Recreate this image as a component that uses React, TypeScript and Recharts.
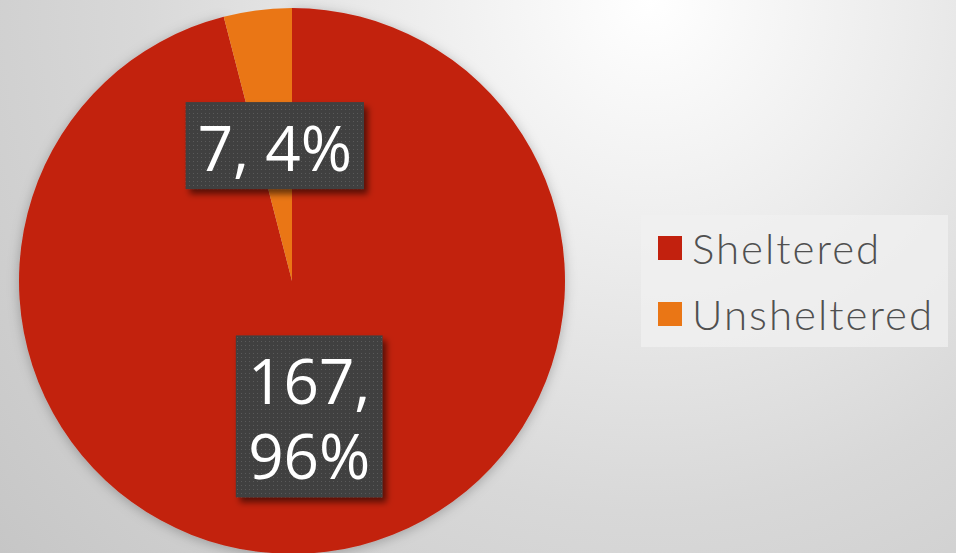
import { PieChart, Pie, Cell, Legend } from 'recharts';

const categories = ['Sheltered', 'Unsheltered'];
const counts = [167, 7];
const sliceColors = ['#C2210E', '#EA7615'];
// Excel wraps the wide label onto two lines
const wrapLabel = [true, false];

const data = categories.map((name, i) => ({ name, value: counts[i] }));
const total = counts.reduce((s, v) => s + v, 0);

const RADIAN = Math.PI / 180;
const FONT = 62;
const LINE_H = 75;

function textWidth(s: string) {
  let w = 0;
  for (const ch of s) {
    if (ch === ',') w += 0.25;
    else if (ch === ' ') w += 0.26;
    else if (ch === '%') w += 0.84;
    else w += 0.57;
  }
  return w * FONT;
}

function renderLabel(props: any) {
  const { cx, cy, midAngle, outerRadius, value, index } = props;
  const r = outerRadius * 0.5;
  const x = cx + r * Math.cos(-midAngle * RADIAN);
  const y = cy + r * Math.sin(-midAngle * RADIAN);
  const pct = Math.round((value / total) * 100);
  const lines = wrapLabel[index] ? [`${value},`, `${pct}%`] : [`${value}, ${pct}%`];
  const w = Math.max(...lines.map(textWidth)) + 24;
  const h = lines.length * LINE_H + 12;
  return (
    <g key={`lbl-${index}`}>
      <rect x={x - w / 2} y={y - h / 2} width={w} height={h} fill="url(#dots)" filter="url(#boxShadow)" />
      <text
        x={x}
        textAnchor="middle"
        fill="#ffffff"
        fontSize={FONT}
        fontWeight={500}
        fontFamily="'Open Sans', sans-serif"
      >
        {lines.map((ln, i) => (
          <tspan key={i} x={x} y={y + 25 + (i - (lines.length - 1) / 2) * LINE_H}>
            {ln}
          </tspan>
        ))}
      </text>
    </g>
  );
}

function LegendBox({ payload }: any) {
  return (
    <div
      style={{
        width: 307,
        height: 132,
        background: 'rgba(240,240,240,0.75)',
        boxSizing: 'border-box',
        paddingLeft: 17,
        paddingTop: 0,
      }}
    >
      {(payload || []).map((p: any) => (
        <div key={p.value} style={{ display: 'flex', alignItems: 'center', height: 66 }}>
          <span style={{ width: 24, height: 24, background: p.color, marginRight: 10 }} />
          <span
            style={{
              fontFamily: 'Lato, sans-serif',
              fontSize: 42,
              fontWeight: 300,
              letterSpacing: 2,
              color: '#505050',
              lineHeight: 1,
            }}
          >
            {p.value}
          </span>
        </div>
      ))}
    </div>
  );
}

export default function App() {
  return (
    <div
      style={{
        width: 956,
        height: 553,
        overflow: 'hidden',
        background: 'radial-gradient(circle at 68% 0%, #ffffff 0%, #ececec 30%, #d8d8d8 60%, #c6c6c6 100%)',
      }}
    >
      <style>{'body{margin:0}'}</style>
      <PieChart width={956} height={553} margin={{ top: 0, right: 0, bottom: 0, left: 0 }}>
        <defs>
          <pattern id="dots" width="4" height="4" patternUnits="userSpaceOnUse">
            <rect width="4" height="4" fill="#404040" />
            <rect x="1" y="1" width="1" height="1" fill="#5a5a5a" />
          </pattern>
          <filter id="boxShadow" x="-20%" y="-20%" width="140%" height="140%">
            <feDropShadow dx="4" dy="5" stdDeviation="3" floodColor="#000" floodOpacity="0.55" />
          </filter>
          <filter id="pieShadow" x="-10%" y="-10%" width="120%" height="120%">
            <feDropShadow dx="0" dy="2" stdDeviation="6" floodColor="#000" floodOpacity="0.25" />
          </filter>
        </defs>
        <Pie
          data={data}
          dataKey="value"
          nameKey="name"
          cx={292}
          cy={281}
          outerRadius={273}
          startAngle={90}
          endAngle={-270}
          stroke="none"
          label={renderLabel}
          labelLine={false}
          isAnimationActive={false}
        >
          {data.map((d, i) => (
            <Cell key={d.name} fill={sliceColors[i]} filter={i === 0 ? 'url(#pieShadow)' : undefined} />
          ))}
        </Pie>
        <Legend
          content={<LegendBox />}
          wrapperStyle={{ position: 'absolute', left: 641, top: 215, width: 307 }}
        />
      </PieChart>
    </div>
  );
}
